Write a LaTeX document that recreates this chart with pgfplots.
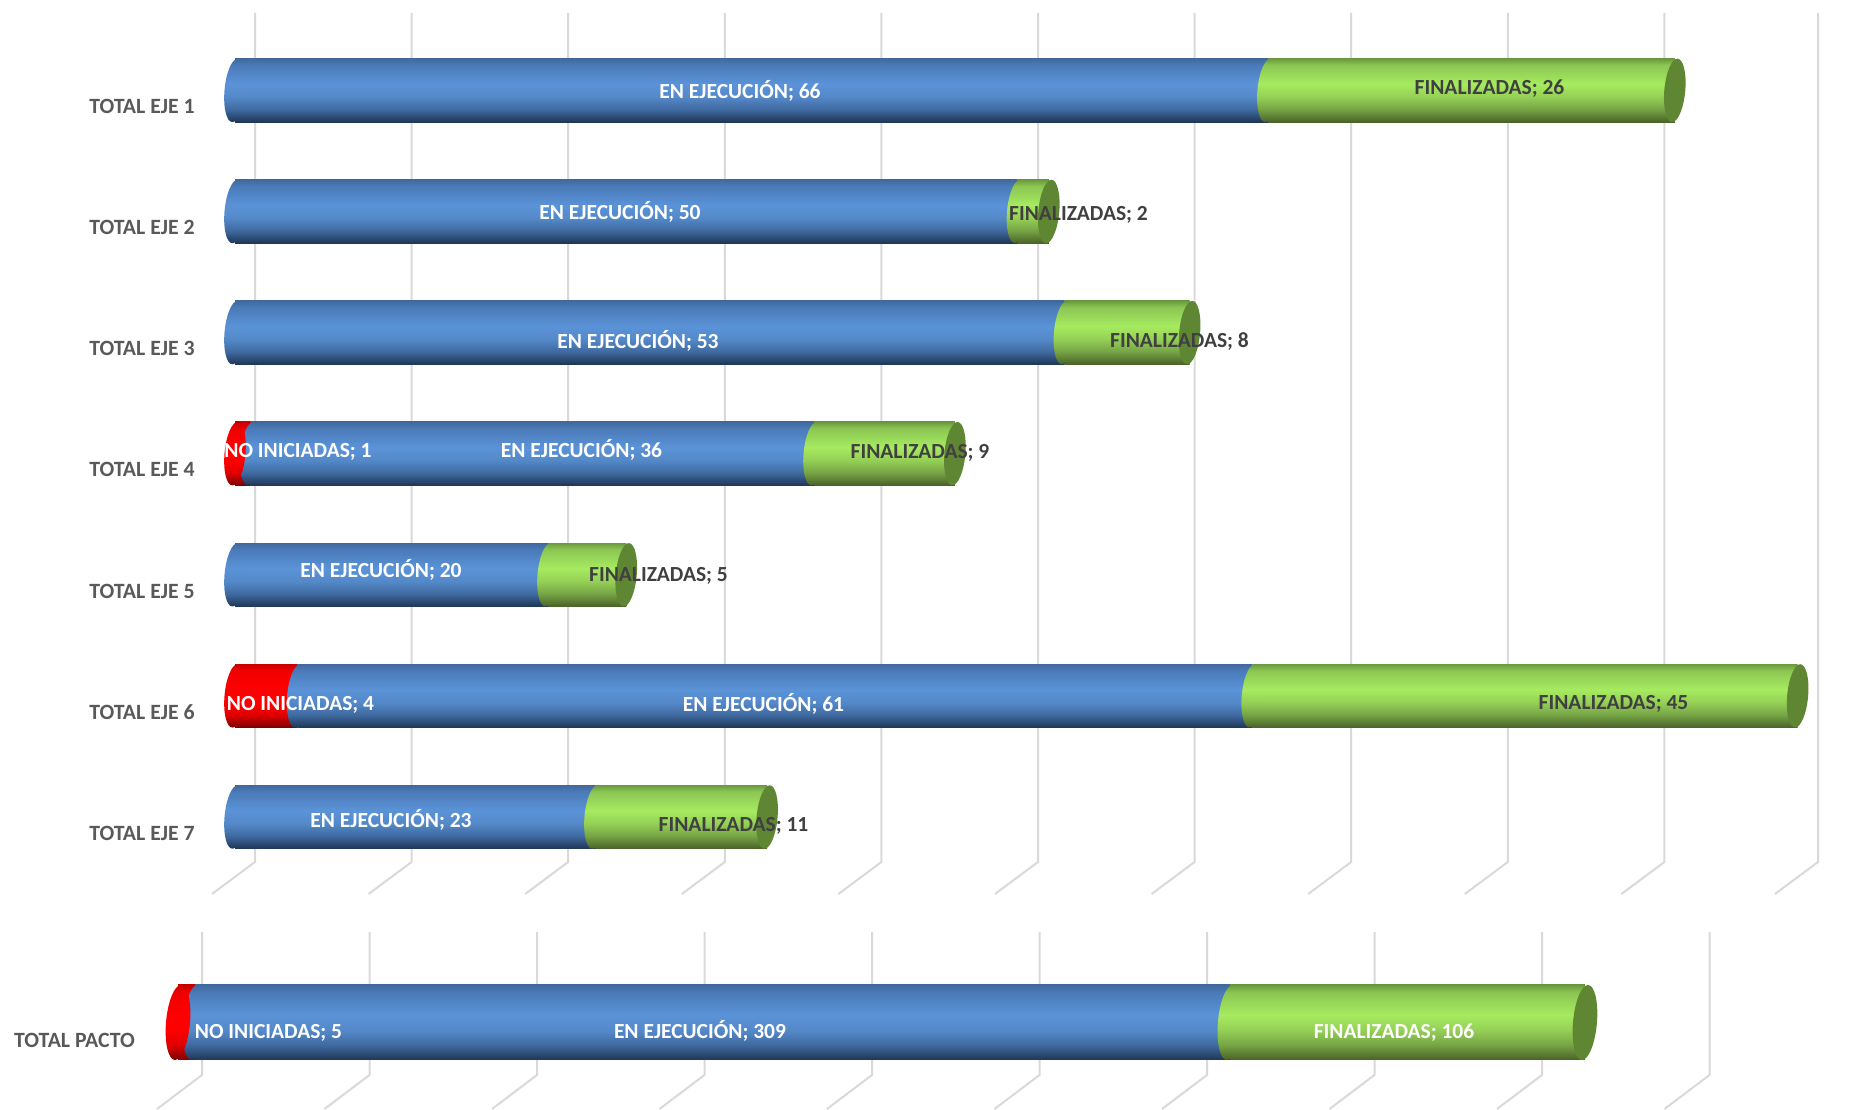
\documentclass[border=0pt]{standalone}
\usepackage{fontspec}
\setmainfont{Carlito}
\usepackage{pgfplots}
\pgfplotsset{compat=1.18}

\definecolor{gridl}{HTML}{D9D9D9}
\definecolor{ticktxt}{HTML}{595959}
\definecolor{darktxt}{HTML}{404040}
\definecolor{capgreen}{HTML}{5F8733}

% cylinder shadings, bottom to top
\newcommand\cylshade[7]{%
  \definecolor{#1a}{HTML}{#2}\definecolor{#1b}{HTML}{#3}\definecolor{#1c}{HTML}{#4}%
  \definecolor{#1d}{HTML}{#5}\definecolor{#1e}{HTML}{#6}\definecolor{#1f}{HTML}{#7}%
  \pgfdeclareverticalshading{#1}{100bp}{color(0bp)=(#1a); color(25bp)=(#1a); color(35bp)=(#1b);
    color(45bp)=(#1c); color(55bp)=(#1d); color(70bp)=(#1e); color(75bp)=(#1f); color(100bp)=(#1f)}}
\cylshade{cylblue}{1F3656}{3F6AA0}{5489C9}{5B93D8}{4A7AB8}{41699E}
\cylshade{cylgreen}{4A6128}{76A445}{95D056}{A6EB60}{8CC653}{6B9A3E}
\cylshade{cylred}{7A0000}{E00000}{FF0000}{FF0000}{F00000}{C80000}

% end of a cylinder as a plot mark
\newcommand\cylmark[5]{\pgfdeclareplotmark{#1}{%
  \pgfpathellipse{\pgfpointorigin}{\pgfqpoint{#3pt}{0pt}}{\pgfqpoint{#4pt}{#5pt}}%
  \pgfshadepath{#2}{0}\pgfusepath{discard}}}
\newcommand\capmark[4]{\pgfdeclareplotmark{#1}{%
  \pgfpathellipse{\pgfpointorigin}{\pgfqpoint{#2pt}{0pt}}{\pgfqpoint{#3pt}{#4pt}}%
  \pgfsetfillcolor{capgreen}\pgfusepath{fill}}}
\cylmark{redA}{cylred}{10.5}{2.6}{31.7}
\cylmark{blueA}{cylblue}{10.5}{2.6}{31.7}
\cylmark{greenA}{cylgreen}{10.5}{2.6}{31.7}
\capmark{capA}{10.5}{2.6}{31.7}
\cylmark{redB}{cylred}{12}{3}{37.5}
\cylmark{blueB}{cylblue}{12}{3}{37.5}
\cylmark{greenB}{cylgreen}{12}{3}{37.5}
\capmark{capB}{12}{3}{37.5}

\pgfplotsset{cyl/.style={
  scale only axis, clip=false, axis lines=none, stack plots=x,
  xtick=\empty, ytick=\empty, bar shift=0pt}}

% one bar per axis: a shading stretches over the whole path of a plot
% #1 set of marks (A or B), #2 row, #3 no iniciadas, #4 en ejecucion, #5 finalizadas
\newcommand\cylplots[5]{%
  \ifnum#3=0 \def\firstmark{blue#1}\else \def\firstmark{red#1}\fi
  \addplot[only marks, mark=\firstmark] coordinates {(0,#2)};
  \ifnum#3>0
    \addplot[xbar, draw=none, shade, shading=cylred, mark=blue#1] coordinates {(#3,#2)};
  \fi
  \addplot[xbar, draw=none, shade, shading=cylblue, mark=green#1] coordinates {(#4,#2)};
  \addplot[xbar, draw=none, shade, shading=cylgreen, mark=cap#1] coordinates {(#5,#2)};
}
\newcommand\ejerow[4]{%
  \begin{axis}[cyl, at={(235pt,293pt)}, anchor=south west, width=1565pt, height=726.6pt,
    xmin=0, xmax=100, ymin=1, ymax=7, y dir=reverse, bar width=63.4pt]
  \cylplots{A}{#1}{#2}{#3}{#4}
  \end{axis}}

\begin{document}
\begin{tikzpicture}
\useasboundingbox (0,0) rectangle (1856pt,1110pt);

% wall lines and floor strokes
\begin{scope}[x=1pt,y=-1pt,yshift=1110pt,gridl,line width=2pt]
\foreach \x in {255,411.6,568.2,724.8,881.4,1038,1194.6,1351.2,1507.8,1664.4,1818}
  \draw (\x,13) -- (\x,862) -- ++(-43,32);
\foreach \i in {0,...,9}
  \draw ({202+167.5*\i},932) -- ({202+167.5*\i},1075) -- ++(-45,34);
\end{scope}

\ejerow{1}{0}{66}{26}
\ejerow{2}{0}{50}{2}
\ejerow{3}{0}{53}{8}
\ejerow{4}{1}{36}{9}
\ejerow{5}{0}{20}{5}
\ejerow{6}{4}{61}{34.85}% 45 in the label: the axis ends at 100 and cuts the bar
\ejerow{7}{0}{23}{11}

\begin{axis}[cyl, at={(178pt,-12.5pt)}, anchor=south west, width=1507.5pt, height=200pt,
  xmin=0, xmax=450, ymin=0, ymax=2, bar width=75pt]
\cylplots{B}{1}{5}{309}{106}
\end{axis}

% category names and data labels, placed by hand in the original
\begin{scope}[x=1pt,y=-1pt,yshift=1110pt,every node/.style={font=\fontsize{21.5}{25}\selectfont\bfseries, inner sep=0pt},
  w/.style={text=white}, d/.style={text=darktxt}, t/.style={text=ticktxt, anchor=east, font=\fontsize{21.8}{25}\selectfont\bfseries}]
\node[t] at (195,106) {TOTAL EJE 1};
\node[t] at (195,227) {TOTAL EJE 2};
\node[t] at (195,348) {TOTAL EJE 3};
\node[t] at (195,469) {TOTAL EJE 4};
\node[t] at (195,591) {TOTAL EJE 5};
\node[t] at (195,712) {TOTAL EJE 6};
\node[t] at (195,833) {TOTAL EJE 7};
\node[t] at (135,1040) {TOTAL PACTO};
\node[w] at (740,91) {EN EJECUCIÓN; 66};
\node[d] at (1489.5,89) {FINALIZADAS; 26};
\node[w] at (620,212) {EN EJECUCIÓN; 50};
\node[d] at (1078.5,215) {FINALIZADAS; 2};
\node[w] at (638,341) {EN EJECUCIÓN; 53};
\node[d] at (1179.5,341.5) {FINALIZADAS; 8};
\node[w] at (298,452) {NO INICIADAS; 1};
\node[w] at (581.5,450) {EN EJECUCIÓN; 36};
\node[d] at (920,453) {FINALIZADAS; 9};
\node[w] at (381,570) {EN EJECUCIÓN; 20};
\node[d] at (658.5,576) {FINALIZADAS; 5};
\node[w] at (300.5,705) {NO INICIADAS; 4};
\node[w] at (763.5,704) {EN EJECUCIÓN; 61};
\node[d] at (1613.5,704) {FINALIZADAS; 45};
\node[w] at (391,820) {EN EJECUCIÓN; 23};
\node[d] at (733.5,825.5) {FINALIZADAS; 11};
\node[w] at (268.5,1033) {NO INICIADAS; 5};
\node[w] at (700,1031) {EN EJECUCIÓN; 309};
\node[w] at (1394,1033) {FINALIZADAS; 106};
\end{scope}
\end{tikzpicture}
\end{document}
